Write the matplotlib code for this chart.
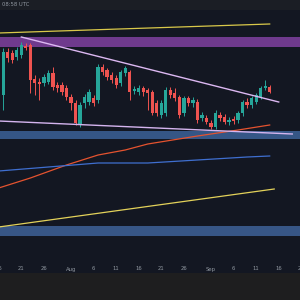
import matplotlib
matplotlib.use("Agg")
import matplotlib.pyplot as plt
import matplotlib.dates as mdates
import matplotlib.transforms as mtransforms
from matplotlib.patches import Rectangle
import pandas as pd

# ── Candles diários (17 jul → 14 set) ─────────────────────────────────────────
dates = pd.date_range("2024-07-17", "2024-09-14", freq="D")

opens = [2525, 2740, 2735, 2715, 2725, 2770, 2775, 2605, 2590, 2585,
         2590, 2635, 2575, 2575, 2560, 2515, 2485, 2375, 2485, 2490,
         2510, 2500, 2665, 2650, 2625, 2610, 2585, 2635, 2640, 2545,
         2540, 2560, 2550, 2540, 2485, 2425, 2435, 2550, 2535, 2515,
         2435, 2510, 2485, 2490, 2410, 2410, 2385, 2365, 2425, 2415,
         2390, 2405, 2400, 2435, 2490, 2475, 2490, 2515, 2560, 2565]
highs = [2760, 2760, 2750, 2765, 2790, 2785, 2785, 2625, 2610, 2630,
         2650, 2665, 2590, 2590, 2575, 2530, 2500, 2490, 2530, 2555,
         2525, 2680, 2680, 2660, 2640, 2625, 2650, 2670, 2650, 2570,
         2575, 2570, 2560, 2550, 2500, 2500, 2565, 2565, 2560, 2525,
         2520, 2520, 2515, 2505, 2440, 2425, 2400, 2450, 2440, 2430,
         2415, 2420, 2445, 2500, 2510, 2520, 2535, 2570, 2600, 2575]
lows = [2450, 2690, 2685, 2700, 2710, 2750, 2535, 2525, 2500, 2570,
        2580, 2550, 2540, 2525, 2500, 2450, 2375, 2365, 2460, 2475,
        2470, 2485, 2625, 2600, 2585, 2560, 2570, 2620, 2500, 2530,
        2525, 2520, 2450, 2425, 2420, 2410, 2420, 2510, 2495, 2410,
        2420, 2470, 2465, 2385, 2395, 2380, 2355, 2355, 2395, 2380,
        2375, 2380, 2385, 2420, 2460, 2460, 2480, 2505, 2550, 2535]
closes = [2740, 2710, 2700, 2750, 2775, 2760, 2600, 2585, 2580, 2615,
          2635, 2565, 2560, 2540, 2515, 2485, 2385, 2475, 2515, 2540,
          2485, 2665, 2640, 2615, 2600, 2575, 2640, 2660, 2540, 2555,
          2560, 2540, 2535, 2435, 2435, 2485, 2550, 2525, 2510, 2425,
          2510, 2485, 2500, 2400, 2425, 2390, 2365, 2435, 2410, 2390,
          2400, 2395, 2435, 2490, 2475, 2510, 2525, 2560, 2570, 2540]

# ── Linhas e zonas ────────────────────────────────────────────────────────────
upper_yellow_dates = ["2024-07-16", "2024-09-14"]
upper_yellow_vals = [2835, 2880]

wedge_top_dates = ["2024-07-21", "2024-09-16"]
wedge_top_vals = [2815, 2490]

wedge_bottom_dates = ["2024-07-16", "2024-09-19"]
wedge_bottom_vals = [2395, 2330]

ma_orange_dates = ["2024-07-16", "2024-07-23", "2024-07-31", "2024-08-07", "2024-08-13",
                   "2024-08-18", "2024-08-29", "2024-09-07", "2024-09-14"]
ma_orange_vals = [2060, 2110, 2175, 2225, 2250, 2280, 2320, 2350, 2375]

ma_blue_dates = ["2024-07-16", "2024-07-27", "2024-08-07", "2024-08-18",
                 "2024-08-29", "2024-09-09", "2024-09-14"]
ma_blue_vals = [2145, 2165, 2185, 2185, 2200, 2215, 2220]

lower_yellow_dates = ["2024-07-16", "2024-09-15"]
lower_yellow_vals = [1865, 2055]

resistance_zone = (2765, 2815)
support_zone = (2305, 2345)
low_support_zone = (1820, 1870)

tick_dates = ["2024-07-16", "2024-07-21", "2024-07-26", "2024-08-01", "2024-08-06",
              "2024-08-11", "2024-08-16", "2024-08-21", "2024-08-26", "2024-09-01",
              "2024-09-06", "2024-09-11", "2024-09-16", "2024-09-21"]
tick_labels = ["16", "21", "26", "Aug", "6", "11", "16", "21", "26",
               "Sep", "6", "11", "16", "21"]

BG = "#131722"
GREEN = "#26a69a"
RED = "#ef5350"

fig = plt.figure(figsize=(3, 3), dpi=100)
fig.patch.set_facecolor(BG)
ax = fig.add_axes([0, 0, 1, 1])
ax.set_facecolor(BG)
for s in ax.spines.values():
    s.set_visible(False)
ax.set_xticks([])
ax.set_yticks([])

# zonas
ax.axhspan(*resistance_zone, color="#7a3f9a", alpha=0.9, lw=0, zorder=1)
ax.axhspan(*support_zone, color="#375a8c", alpha=0.95, lw=0, zorder=1)
ax.axhspan(*low_support_zone, color="#3a5a8c", alpha=0.95, lw=0, zorder=1)

# médias móveis
ax.plot(pd.to_datetime(ma_orange_dates), ma_orange_vals, color="#e5532f", lw=0.9, zorder=2)
ax.plot(pd.to_datetime(ma_blue_dates), ma_blue_vals, color="#3f6fd0", lw=0.9, zorder=2)
ax.plot(pd.to_datetime(lower_yellow_dates), lower_yellow_vals, color="#e3d25a", lw=0.9, zorder=2)
ax.plot(pd.to_datetime(upper_yellow_dates), upper_yellow_vals, color="#d9c84a", lw=0.9, zorder=2)

# candles
colors = [GREEN if c >= o else RED for o, c in zip(opens, closes)]
x = mdates.date2num(dates)
ax.vlines(x, lows, highs, colors=colors, lw=0.7, zorder=3)
heights = [max(abs(c - o), 4) for o, c in zip(opens, closes)]
bottoms = [min(o, c) for o, c in zip(opens, closes)]
ax.bar(x, heights, bottom=bottoms, width=0.72, color=colors, lw=0, zorder=3)

# cunha
ax.plot(pd.to_datetime(wedge_top_dates), wedge_top_vals, color="#dcb8f2", lw=1.0, zorder=4)
ax.plot(pd.to_datetime(wedge_bottom_dates), wedge_bottom_vals, color="#d4b4ee", lw=1.0, zorder=4)

aug1 = mdates.date2num(pd.Timestamp("2024-08-01"))
ax.set_xlim(aug1 - 15.72, aug1 + 50.71)
ax.set_ylim(1500, 3000)

# rótulos do eixo de tempo
trans = mtransforms.blended_transform_factory(ax.transData, ax.transAxes)
for d, lab in zip(pd.to_datetime(tick_dates), tick_labels):
    ax.text(mdates.date2num(d), 31 / 300, lab, transform=trans, ha="center", va="center",
            fontsize=3.8, color="#9198a1", zorder=6)

# faixas superior e inferior
fig.add_artist(Rectangle((0, 0), 1, 27 / 300, transform=fig.transFigure,
                         color="#1e1e1f", lw=0, zorder=5))
fig.add_artist(Rectangle((0, 1 - 10 / 300), 1, 10 / 300, transform=fig.transFigure,
                         color="#1b1e25", lw=0, zorder=5))
fig.text(2 / 300, 1 - 5 / 300, "08:58 UTC", ha="left", va="center",
         fontsize=3.8, color="#9198a1", zorder=6)

fig.savefig("out.png", dpi=100, facecolor=BG)
